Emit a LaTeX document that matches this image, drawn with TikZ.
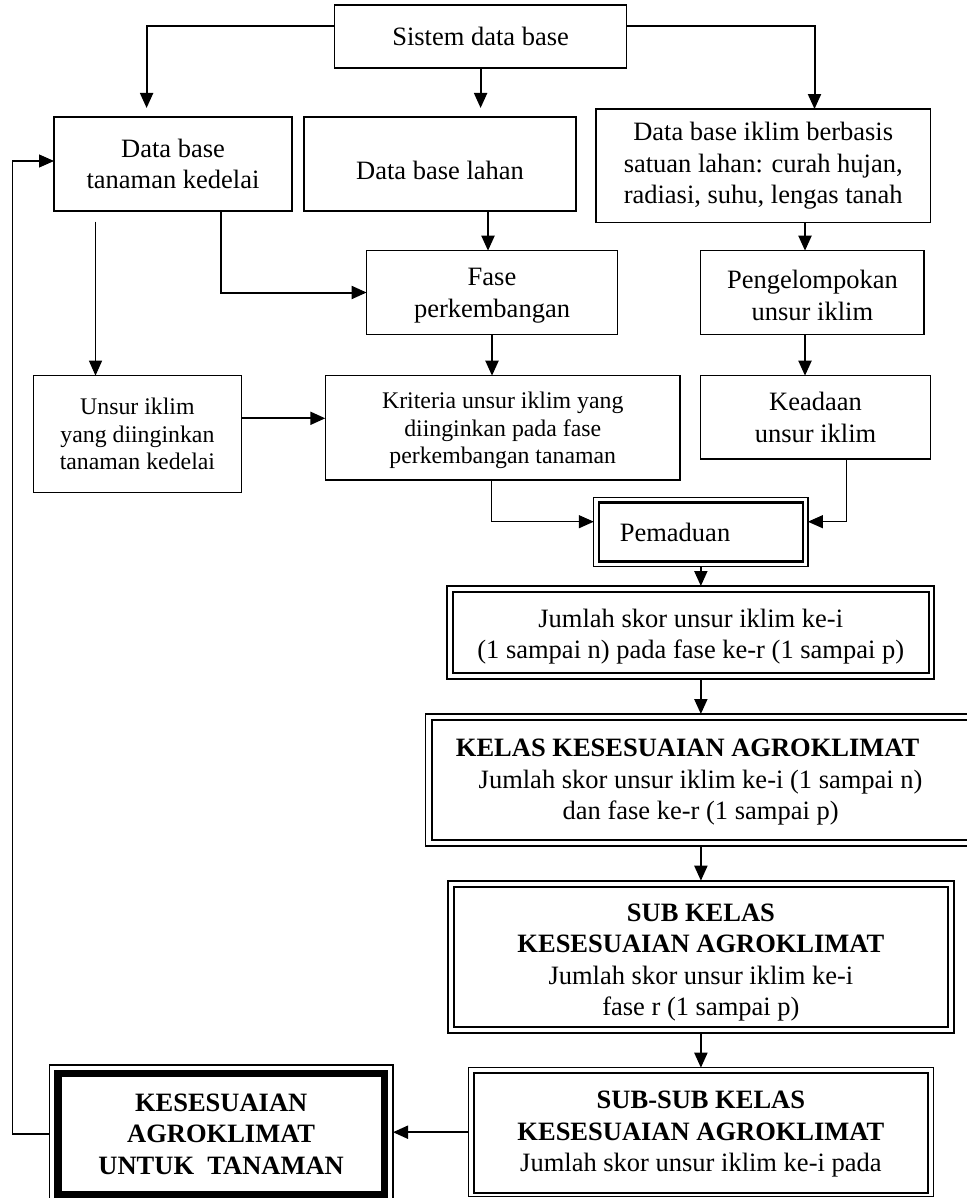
\documentclass[tikz,border=0pt]{standalone}
\usepackage{fontspec}
\setmainfont{Liberation Serif}
\usetikzlibrary{arrows.meta}
\newcommand\fbig{\fontsize{26.5}{31.5}\selectfont}
\newcommand\fsmall{\fontsize{23.8}{27.4}\selectfont}
\begin{document}
\begin{tikzpicture}[x=1pt,y=-1pt,
  box/.style={draw, line width=1.5pt, inner sep=0pt, outer sep=0pt, align=center, font=\fbig},
  sbox/.style={box, font=\fsmall},
  arr/.style={line width=2pt, -{Triangle[length=15pt,width=13pt]}},
  thinarr/.style={line width=1.2pt, -{Triangle[length=15pt,width=13pt]}},
  inframe/.style={line width=2pt}]
\fill[white] (0,0) rectangle (966,1198);
\useasboundingbox (0,0) rectangle (966,1198);

% single boxes
\node[box, minimum width=292pt, minimum height=63pt] (sys) at (480.6,36.5) {Sistem data base};
\node[box, minimum width=238pt, minimum height=94pt] (dbt) at (173,164) {Data base\\tanaman kedelai};
\node[box, minimum width=272pt, minimum height=94pt] (dbl) at (440,164) {\mbox{}\\Data base lahan};
\node[box, minimum width=334.4pt, minimum height=113.7pt] (dbi) at (763.2,165.9) {Data base iklim berbasis\\satuan lahan: curah hujan,\\radiasi, suhu, lengas tanah};
\node[box, minimum width=250.8pt, minimum height=83.6pt] (fase) at (492,292.5) {\rule{0pt}{24pt}Fase\\perkembangan};
\node[box, minimum width=223.6pt, minimum height=83.6pt] (peng) at (812.4,292.5) {\rule{0pt}{24pt}Pengelompokan\\unsur iklim};
\node[sbox, minimum width=208.2pt, minimum height=116.6pt] (unsur) at (137.4,434) {Unsur iklim\\yang diinginkan\\tanaman kedelai};
\node[sbox, minimum width=354.9pt, minimum height=104.3pt] (krit) at (502.75,427.85) {\rule{0pt}{22pt}Kriteria unsur iklim yang\\diinginkan pada fase\\perkembangan tanaman};
\node[box, minimum width=229.8pt, minimum height=83.3pt] (keadaan) at (815.5,417.35) {Keadaan\\unsur iklim};

% double boxes
\node[box, line width=1.2pt, minimum width=214.1pt, minimum height=69pt, text width=162pt, align=left] (pem) at (700.85,532.2) {Pemaduan};
\draw[line width=2.6pt] ([shift={(5,5)}]pem.north west) rectangle ([shift={(-5,-5)}]pem.south east);

\node[box, line width=1.8pt, minimum width=486.9pt, minimum height=93pt] (jml) at (690.75,632.5) {\rule{0pt}{27pt}Jumlah skor unsur iklim ke-i\\(1 sampai n) pada fase ke-r (1 sampai p)};
\draw[inframe] ([shift={(5.6,5.6)}]jml.north west) rectangle ([shift={(-5.6,-5.6)}]jml.south east);

\node[box, line width=1.2pt, minimum width=550pt, minimum height=132pt] (kelas) at (700.6,780) {\rule{0pt}{22pt}\textbf{KELAS KESESUAIAN AGROKLIMAT}\hspace*{26pt}\\Jumlah skor unsur iklim ke-i (1 sampai n)\\dan fase ke-r (1 sampai p)};
\draw[inframe] ([shift={(6,6)}]kelas.north west) rectangle ([shift={(-6,-6)}]kelas.south east);

\node[box, line width=1.8pt, minimum width=505.8pt, minimum height=152.6pt] (sub) at (700.9,957) {\rule{0pt}{29pt}\textbf{SUB KELAS}\\\textbf{KESESUAIAN AGROKLIMAT}\\Jumlah skor unsur iklim ke-i\\fase r (1 sampai p)};
\draw[inframe] ([shift={(6,6)}]sub.north west) rectangle ([shift={(-6,-6)}]sub.south east);

\node[box, line width=1.5pt, minimum width=465.2pt, minimum height=129pt] (ss) at (700.9,1132.2) {\rule{0pt}{22pt}\textbf{SUB-SUB KELAS}\\\textbf{KESESUAIAN AGROKLIMAT}\\Jumlah skor unsur iklim ke-i pada};
\draw[inframe] ([shift={(6,5)}]ss.north west) rectangle ([shift={(-6,-4)}]ss.south east);

\node[box, line width=1.2pt, minimum width=343.7pt, minimum height=138pt, font=\fbig\bfseries] (kes) at (221.15,1134) {KESESUAIAN\\AGROKLIMAT\\UNTUK~~TANAMAN};
\draw[line width=7.4pt] ([shift={(8.7,8.7)}]kes.north west) rectangle ([shift={(-8.7,-8.7)}]kes.south east);

% connectors
\draw[arr, shorten >=9pt] ([yshift=10.5pt]sys.west) -| ([xshift=-26.4pt]dbt.north);
\draw[arr, shorten >=9pt] (sys.south) -- (sys.south |- dbl.north);
\draw[arr] ([yshift=10.5pt]sys.east) -| ([xshift=51.3pt]dbi.north);

\draw[arr] ([xshift=47.6pt]dbt.south) |- (fase.west);
\coordinate (c5) at (488,0);
\draw[arr] (c5 |- dbl.south) -- (c5 |- fase.north);
\coordinate (c6) at (805,0);
\draw[arr] (c6 |- dbi.south) -- (c6 |- peng.north);
\coordinate (c7) at (95.5,221.7);
\draw[thinarr] (c7) -- (c7 |- unsur.north);
\draw[arr] (fase.south) -- (fase.south |- krit.north);
\draw[arr] (c6 |- peng.south) -- (c6 |- keadaan.north);
\coordinate (c10) at (0,418.3);
\draw[arr] (c10 -| unsur.east) -- (c10 -| krit.west);
\coordinate (c11) at (491.4,521.7);
\draw[thinarr] (c11 |- krit.south) |- (c11 -| pem.west);
\coordinate (c12) at (846.4,521.7);
\draw[thinarr] (c12 |- keadaan.south) |- (c12 -| pem.east);
\draw[arr] (pem.south) -- (pem.south |- jml.north);
\draw[arr] (pem.south |- jml.south) -- (pem.south |- kelas.north);
\draw[arr] (sub.north |- kelas.south) -- (sub.north);
\draw[arr] (sub.south) -- (sub.south |- ss.north);
\draw[arr] (ss.west) -- (ss.west -| kes.east);
\coordinate (c18) at (12.3,0);
\draw[thinarr] (kes.west) -- (kes.west -| c18) |- ([yshift=3pt]dbt.west);
\end{tikzpicture}
\end{document}
